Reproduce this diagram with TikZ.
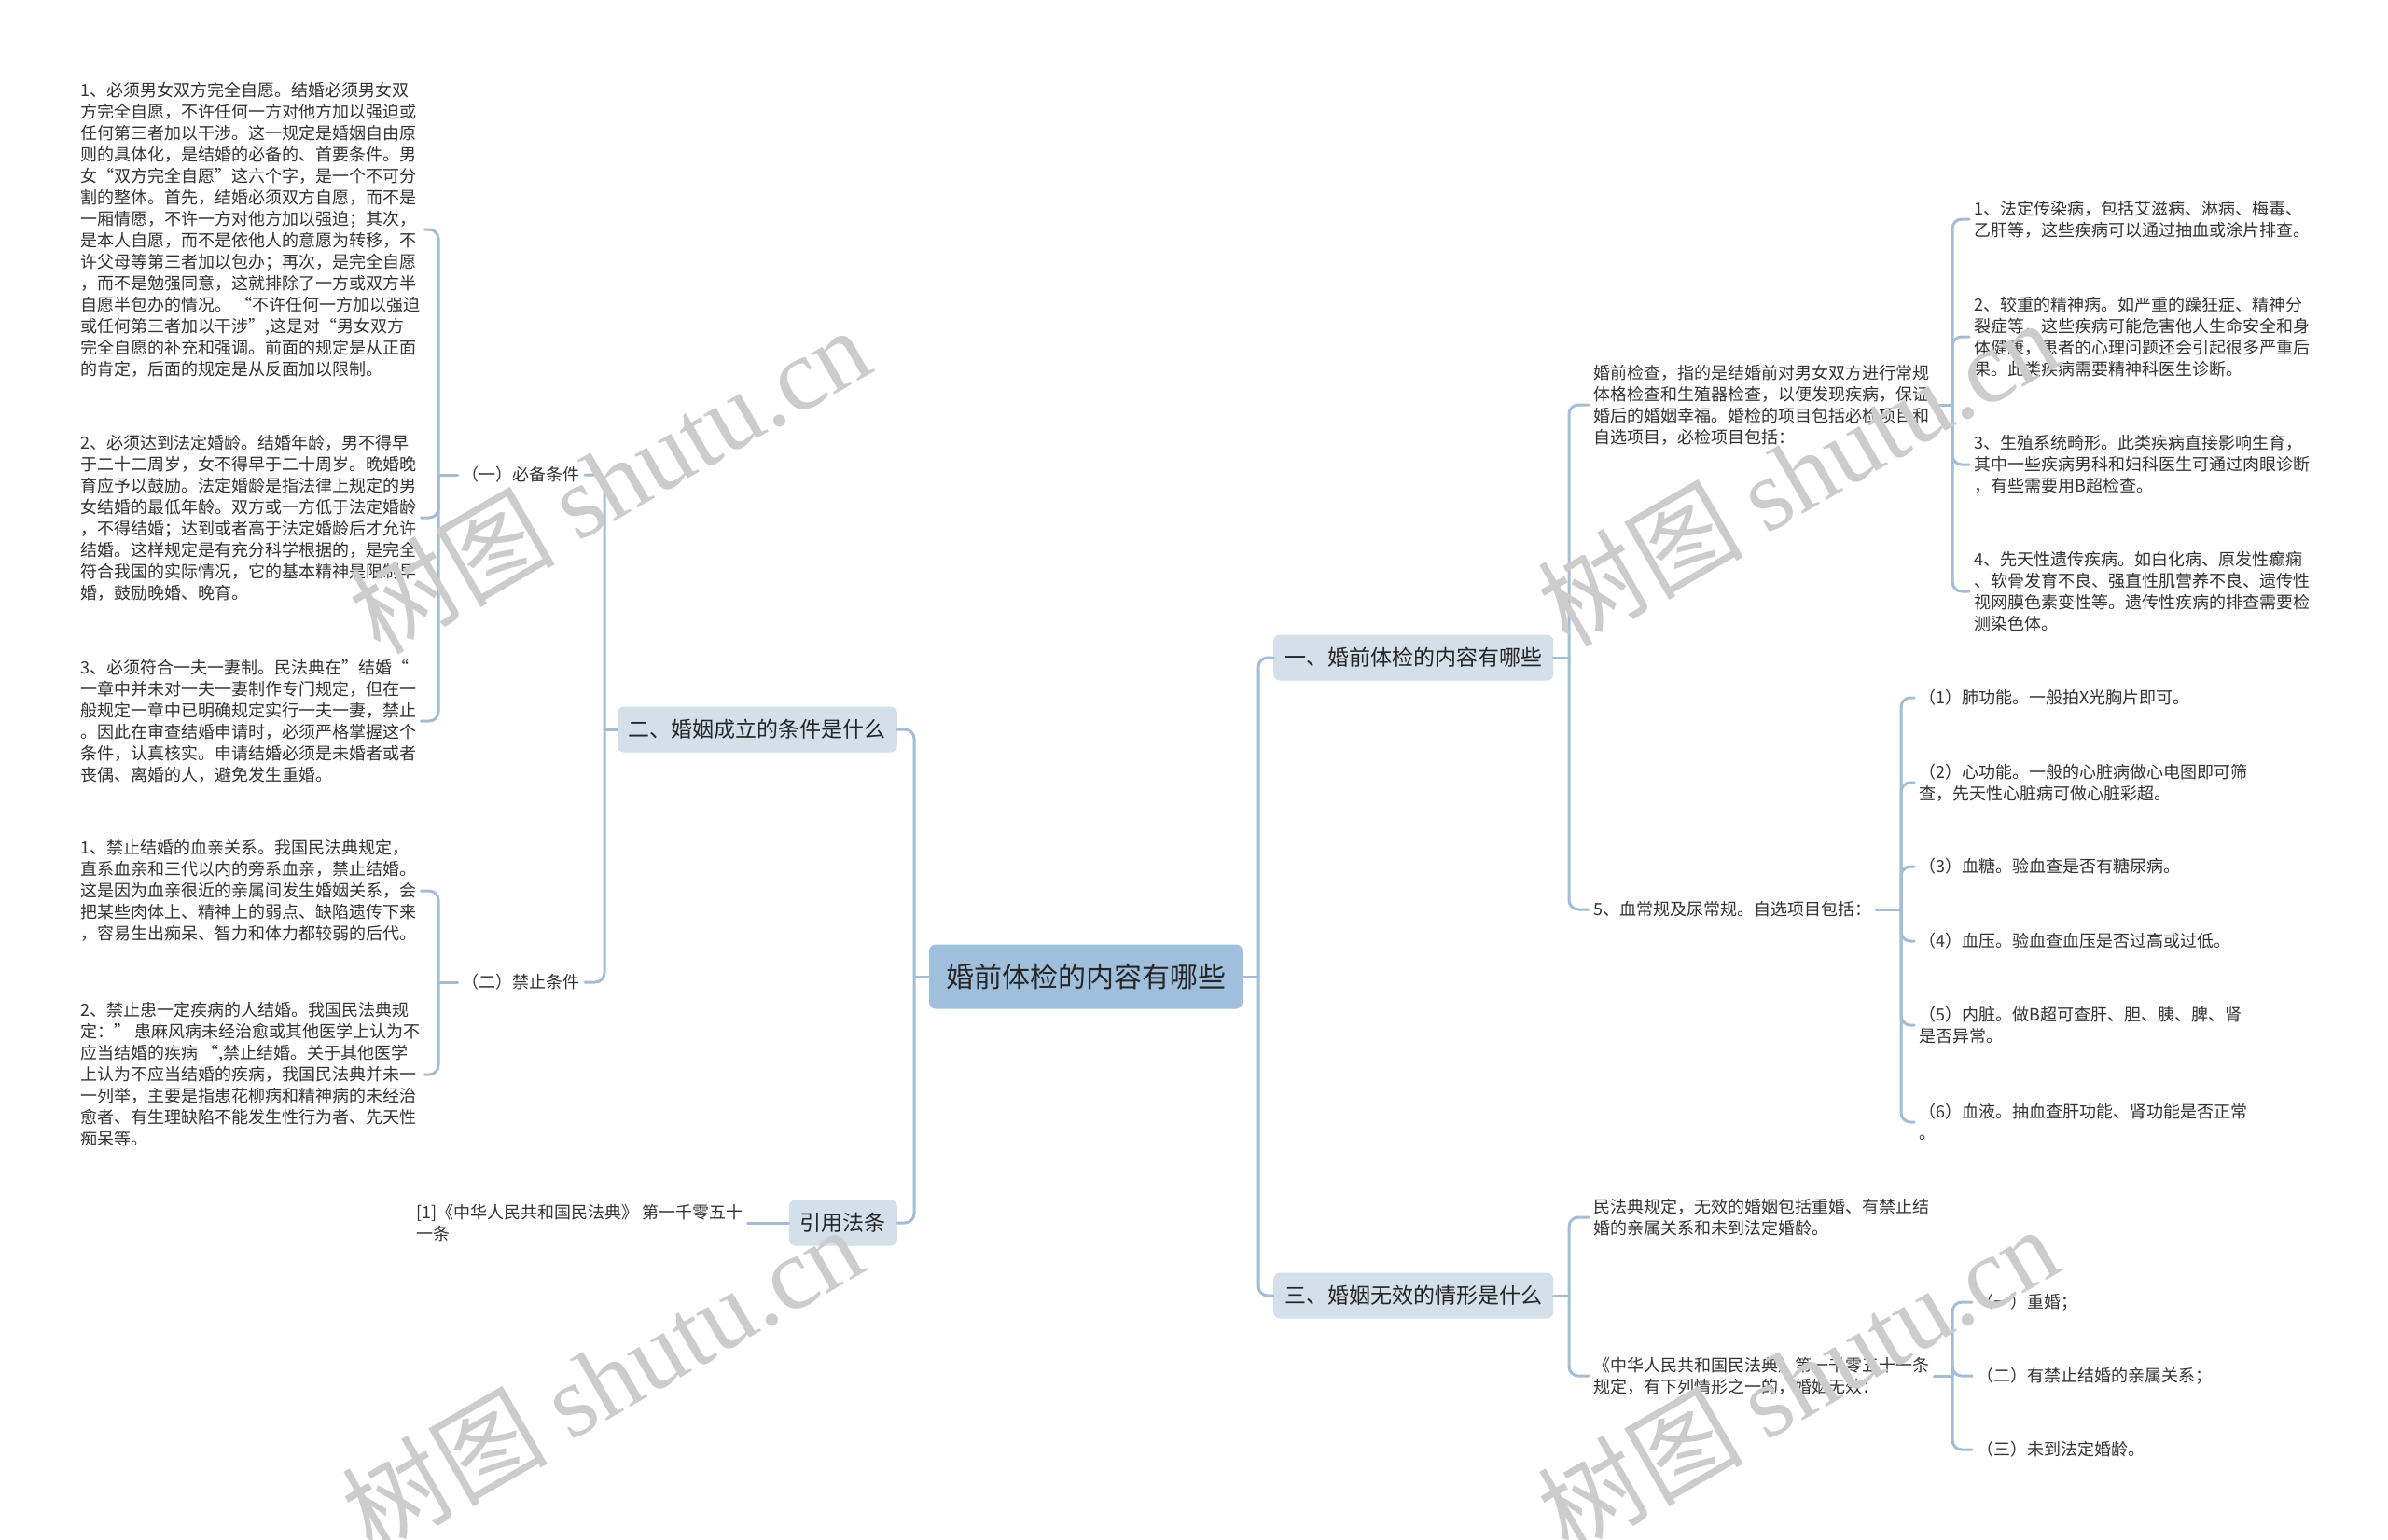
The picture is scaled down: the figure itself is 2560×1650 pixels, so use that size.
\documentclass[tikz,border=0pt]{standalone}
\usepackage{fontspec}
\setmainfont{Noto Sans CJK SC}
\newfontfamily\wmlatin{Liberation Serif}

\definecolor{linkblue}{HTML}{A4BDD4}
\definecolor{rootfill}{HTML}{A0BFDC}
\definecolor{topicfill}{HTML}{D3DFE9}
\definecolor{ink}{HTML}{333333}

\tikzset{
  link/.style={draw=linkblue, line width=3pt, rounded corners=10pt, line cap=round},
  rootnode/.style={fill=rootfill, rounded corners=7pt, inner xsep=18pt, inner ysep=0pt,
    minimum height=69pt, text=black!85, font=\fontsize{30}{36}\selectfont},
  topic/.style={fill=topicfill, rounded corners=7pt, inner xsep=12pt, inner ysep=0pt,
    minimum height=49pt, text=black!85, font=\fontsize{23}{28}\selectfont},
  leaf/.style={align=left, inner xsep=5pt, inner ysep=3pt, text=ink,
    font=\fontsize{18}{23}\selectfont},
  wmark/.style={text=black!20, rotate=30, font=\fontsize{110}{120}\selectfont}
}

\begin{document}
\begin{tikzpicture}[x=1pt,y=-1pt]
  \useasboundingbox (0,0) rectangle (2560,1650);
  \fill[white] (0,0) rectangle (2560,1650);

  % centre and first level
  \node[rootnode] (root) at (1164,1047) {婚前体检的内容有哪些};
  \node[topic, anchor=west] (jian) at (1365,705) {一、婚前体检的内容有哪些};
  \node[topic, anchor=west] (wuxiao) at (1365,1389) {三、婚姻无效的情形是什么};
  \node[topic, anchor=east] (chengli) at (962,782) {二、婚姻成立的条件是什么};
  \node[topic, anchor=east] (fatiao) at (962,1311) {引用法条};

  % right side: premarital check
  \node[leaf, anchor=west] (bijian) at (1703,434) {婚前检查，指的是结婚前对男女双方进行常规\\体格检查和生殖器检查，以便发现疾病，保证\\婚后的婚姻幸福。婚检的项目包括必检项目和\\自选项目，必检项目包括：};
  \node[leaf, anchor=west] (zixuan) at (1703,975) {5、血常规及尿常规。自选项目包括：};

  \node[leaf, anchor=west] (bj1) at (2111,235) {1、法定传染病，包括艾滋病、淋病、梅毒、\\乙肝等，这些疾病可以通过抽血或涂片排查。};
  \node[leaf, anchor=west] (bj2) at (2111,361) {2、较重的精神病。如严重的躁狂症、精神分\\裂症等，这些疾病可能危害他人生命安全和身\\体健康，患者的心理问题还会引起很多严重后\\果。此类疾病需要精神科医生诊断。};
  \node[leaf, anchor=west] (bj3) at (2111,498) {3、生殖系统畸形。此类疾病直接影响生育，\\其中一些疾病男科和妇科医生可通过肉眼诊断\\，有些需要用B超检查。};
  \node[leaf, anchor=west] (bj4) at (2111,634) {4、先天性遗传疾病。如白化病、原发性癫痫\\、软骨发育不良、强直性肌营养不良、遗传性\\视网膜色素变性等。遗传性疾病的排查需要检\\测染色体。};

  \node[leaf, anchor=west] (zx1) at (2052,748) {（1）肺功能。一般拍X光胸片即可。};
  \node[leaf, anchor=west] (zx2) at (2052,839) {（2）心功能。一般的心脏病做心电图即可筛\\查，先天性心脏病可做心脏彩超。};
  \node[leaf, anchor=west] (zx3) at (2052,929) {（3）血糖。验血查是否有糖尿病。};
  \node[leaf, anchor=west] (zx4) at (2052,1009) {（4）血压。验血查血压是否过高或过低。};
  \node[leaf, anchor=west] (zx5) at (2052,1099) {（5）内脏。做B超可查肝、胆、胰、脾、肾\\是否异常。};
  \node[leaf, anchor=west] (zx6) at (2052,1203) {（6）血液。抽血查肝功能、肾功能是否正常\\。};

  % right side: void marriage
  \node[leaf, anchor=west] (wx1) at (1703,1305) {民法典规定，无效的婚姻包括重婚、有禁止结\\婚的亲属关系和未到法定婚龄。};
  \node[leaf, anchor=west] (wx2) at (1703,1475) {《中华人民共和国民法典》第一千零五十一条\\规定，有下列情形之一的，婚姻无效：};
  \node[leaf, anchor=west] (qx1) at (2114,1396) {（一）重婚；};
  \node[leaf, anchor=west] (qx2) at (2114,1475) {（二）有禁止结婚的亲属关系；};
  \node[leaf, anchor=west] (qx3) at (2114,1554) {（三）未到法定婚龄。};

  % left side: conditions
  \node[leaf, anchor=east] (bibei) at (627,509) {（一）必备条件};
  \node[leaf, anchor=east] (jinzhi) at (627,1053) {（二）禁止条件};

  \node[leaf, anchor=west] (bb1) at (81,246) {1、必须男女双方完全自愿。结婚必须男女双\\方完全自愿，不许任何一方对他方加以强迫或\\任何第三者加以干涉。这一规定是婚姻自由原\\则的具体化，是结婚的必备的、首要条件。男\\女“双方完全自愿”这六个字，是一个不可分\\割的整体。首先，结婚必须双方自愿，而不是\\一厢情愿，不许一方对他方加以强迫；其次，\\是本人自愿，而不是依他人的意愿为转移，不\\许父母等第三者加以包办；再次，是完全自愿\\，而不是勉强同意，这就排除了一方或双方半\\自愿半包办的情况。 “不许任何一方加以强迫\\或任何第三者加以干涉”,这是对“男女双方\\完全自愿的补充和强调。前面的规定是从正面\\的肯定，后面的规定是从反面加以限制。};
  \node[leaf, anchor=west] (bb2) at (81,555) {2、必须达到法定婚龄。结婚年龄，男不得早\\于二十二周岁，女不得早于二十周岁。晚婚晚\\育应予以鼓励。法定婚龄是指法律上规定的男\\女结婚的最低年龄。双方或一方低于法定婚龄\\，不得结婚；达到或者高于法定婚龄后才允许\\结婚。这样规定是有充分科学根据的，是完全\\符合我国的实际情况，它的基本精神是限制早\\婚，鼓励晚婚、晚育。};
  \node[leaf, anchor=west] (bb3) at (81,773) {3、必须符合一夫一妻制。民法典在”结婚“\\一章中并未对一夫一妻制作专门规定，但在一\\般规定一章中已明确规定实行一夫一妻，禁止\\。因此在审查结婚申请时，必须严格掌握这个\\条件，认真核实。申请结婚必须是未婚者或者\\丧偶、离婚的人，避免发生重婚。};
  \node[leaf, anchor=west] (jz1) at (81,955) {1、禁止结婚的血亲关系。我国民法典规定，\\直系血亲和三代以内的旁系血亲，禁止结婚。\\这是因为血亲很近的亲属间发生婚姻关系，会\\把某些肉体上、精神上的弱点、缺陷遗传下来\\，容易生出痴呆、智力和体力都较弱的后代。};
  \node[leaf, anchor=west] (jz2) at (81,1152) {2、禁止患一定疾病的人结婚。我国民法典规\\定：” 患麻风病未经治愈或其他医学上认为不\\应当结婚的疾病 “,禁止结婚。关于其他医学\\上认为不应当结婚的疾病，我国民法典并未一\\一列举，主要是指患花柳病和精神病的未经治\\愈者、有生理缺陷不能发生性行为者、先天性\\痴呆等。};

  \node[leaf, anchor=west] (yinyong) at (441,1311) {[1]《中华人民共和国民法典》 第一千零五十\\一条};

  % bus points
  \coordinate (busR) at (1349,1047);
  \coordinate (busL) at (980,1047);
  \coordinate (busJian) at (1682,705);
  \coordinate (busWx) at (1682,1389);
  \coordinate (busBj) at (2093,434);
  \coordinate (busZx) at (2038,975);
  \coordinate (busQx) at (2093,1475);
  \coordinate (busCl) at (648,782);
  \coordinate (busBb) at (470,509);
  \coordinate (busJz) at (470,1053);

  % connectors
  \draw[link] (root.east) -- (busR);
  \draw[link] (busR) |- (jian.west);
  \draw[link] (busR) |- (wuxiao.west);
  \draw[link] (root.west) -- (busL);
  \draw[link] (busL) |- (chengli.east);
  \draw[link] (busL) |- (fatiao.east);

  \draw[link] (jian.east) -- (busJian);
  \draw[link] (busJian) |- (bijian.west);
  \draw[link] (busJian) |- (zixuan.west);
  \draw[link] (bijian.east) -- (busBj);
  \foreach \n in {bj1,bj2,bj3,bj4}
    \draw[link] (busBj) |- (\n.west);
  \draw[link] (zixuan.east) -- (busZx);
  \foreach \n in {zx1,zx2,zx3,zx4,zx5,zx6}
    \draw[link] (busZx) |- (\n.west);

  \draw[link] (wuxiao.east) -- (busWx);
  \draw[link] (busWx) |- (wx1.west);
  \draw[link] (busWx) |- (wx2.west);
  \draw[link] (wx2.east) -- (busQx);
  \foreach \n in {qx1,qx2,qx3}
    \draw[link] (busQx) |- (\n.west);

  \draw[link] (chengli.west) -- (busCl);
  \draw[link] (busCl) |- (bibei.east);
  \draw[link] (busCl) |- (jinzhi.east);
  \draw[link] (bibei.west) -- (busBb);
  \foreach \n in {bb1,bb2,bb3}
    \draw[link] (busBb) |- (\n.east);
  \draw[link] (jinzhi.west) -- (busJz);
  \foreach \n in {jz1,jz2}
    \draw[link] (busJz) |- (\n.east);
  \draw[link] (fatiao.west) -- (yinyong.east);

  % watermarks
  \node[wmark] (wm1) at (653,514) {树图 {\wmlatin shutu.cn}};
  \node[wmark] (wm2) at (1927,506) {树图 {\wmlatin shutu.cn}};
  \node[wmark] (wm3) at (645,1478) {树图 {\wmlatin shutu.cn}};
  \node[wmark] (wm4) at (1927,1478) {树图 {\wmlatin shutu.cn}};
\end{tikzpicture}
\end{document}
